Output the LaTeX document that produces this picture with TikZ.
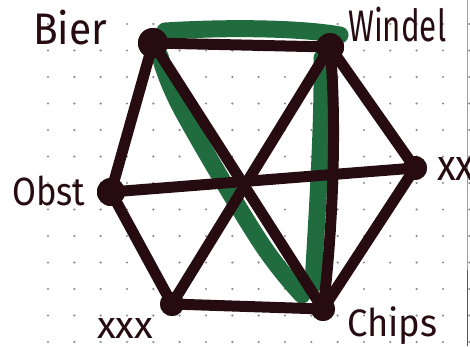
\documentclass[tikz,border=0pt]{standalone}
\usepackage{fontspec}
\setmainfont{Fira Sans}
\usepackage{graphicx}
\definecolor{ink}{RGB}{38,12,16}
\definecolor{hl}{RGB}{32,108,62}
\definecolor{griddot}{RGB}{140,140,140}
\definecolor{scanedge}{RGB}{160,150,200}
\definecolor{scanedgedark}{RGB}{90,70,150}
\begin{document}
\begin{tikzpicture}[x=1pt,y=-1pt,
  edge/.style={draw=ink,line width=11pt,line cap=round,line join=round},
  highlight/.style={draw=hl,line width=17pt,line cap=round,line join=round},
  vertex/.style={circle,fill=ink,inner sep=0pt},
  lab/.style={inner sep=0pt,anchor=north west,text=ink}]
\useasboundingbox (0,0) rectangle (470,346);
\clip (0,0) rectangle (470,346);
\fill[white] (0,0) rectangle (470,346);
% dot grid
\foreach \i in {0,...,16}{\foreach \j in {0,...,13}{\fill[griddot] (48+26.33*\i,-2.5+26.5*\j) circle (1.2pt);}}
% scan edge
\draw[scanedge,line width=1.5pt] (467.5,0) -- (467.5,346);
\draw[scanedgedark,line width=1.5pt] (467.5,270) -- (467.5,346);
% vertices
\node[vertex,minimum size=30pt] (B) at (153,43) {};
\node[vertex,minimum size=28pt] (W) at (330,47) {};
\node[vertex,minimum size=24pt] (R) at (415,168) {};
\node[vertex,minimum size=24pt] (C) at (323,309) {};
\node[vertex,minimum size=24pt] (X) at (172,304) {};
\node[vertex,minimum size=28pt] (O) at (111,192) {};
% highlight end points
\coordinate (g1) at (165,31);
\coordinate (g2) at (340,35);
\coordinate (g3) at (160,56);
\coordinate (g4) at (302,295);
\coordinate (g5) at (322,58);
\coordinate (g6) at (313,285);
% green highlights
\draw[highlight] (g1) .. controls (230,27) and (300,28) .. (g2);
\draw[highlight] plot[smooth,tension=0.6] coordinates {(g3) (182,110) (259,240) (g4)};
\draw[highlight] (g5) .. controls (323,130) and (316,230) .. (g6);
% black edges
\draw[edge] (B.center) -- (W.center);
\draw[edge] (W.center) -- (R.center);
\draw[edge] (R.center) -- (C.center);
\draw[edge] (C.center) -- (X.center);
\draw[edge] (X.center) -- (O.center);
\draw[edge] (O.center) -- (B.center);
\draw[edge] (B.center) -- (C.center);
\draw[edge] (W.center) -- (X.center);
\draw[edge] (O.center) -- (R.center);
\draw[edge] (W.center) .. controls (337,120) and (333,230) .. (C.center);
% vertices on top
\fill[ink] (B.center) circle (15pt);
\fill[ink] (W.center) circle (14pt);
\fill[ink] (R.center) circle (12pt);
\fill[ink] (C.center) circle (12pt);
\fill[ink] (X.center) circle (12pt);
\fill[ink] (O.center) circle (14pt);
% labels
\node[lab] (lB) at (33,10) {\resizebox*{74pt}{35pt}{Bier}};
\node[lab] (lW) at (348,7) {\resizebox*{98pt}{35pt}{Windel}};
\node[lab] (lO) at (12,176) {\resizebox*{73pt}{30pt}{Obst}};
\node[lab] (lX) at (97,318) {\resizebox*{56pt}{20pt}{xxx}};
\node[lab] (lC) at (347,306) {\resizebox*{90pt}{38pt}{Chips}};
\node[lab] (lR) at (437,157) {\resizebox*{56pt}{23pt}{xxx}};
\end{tikzpicture}
\end{document}
